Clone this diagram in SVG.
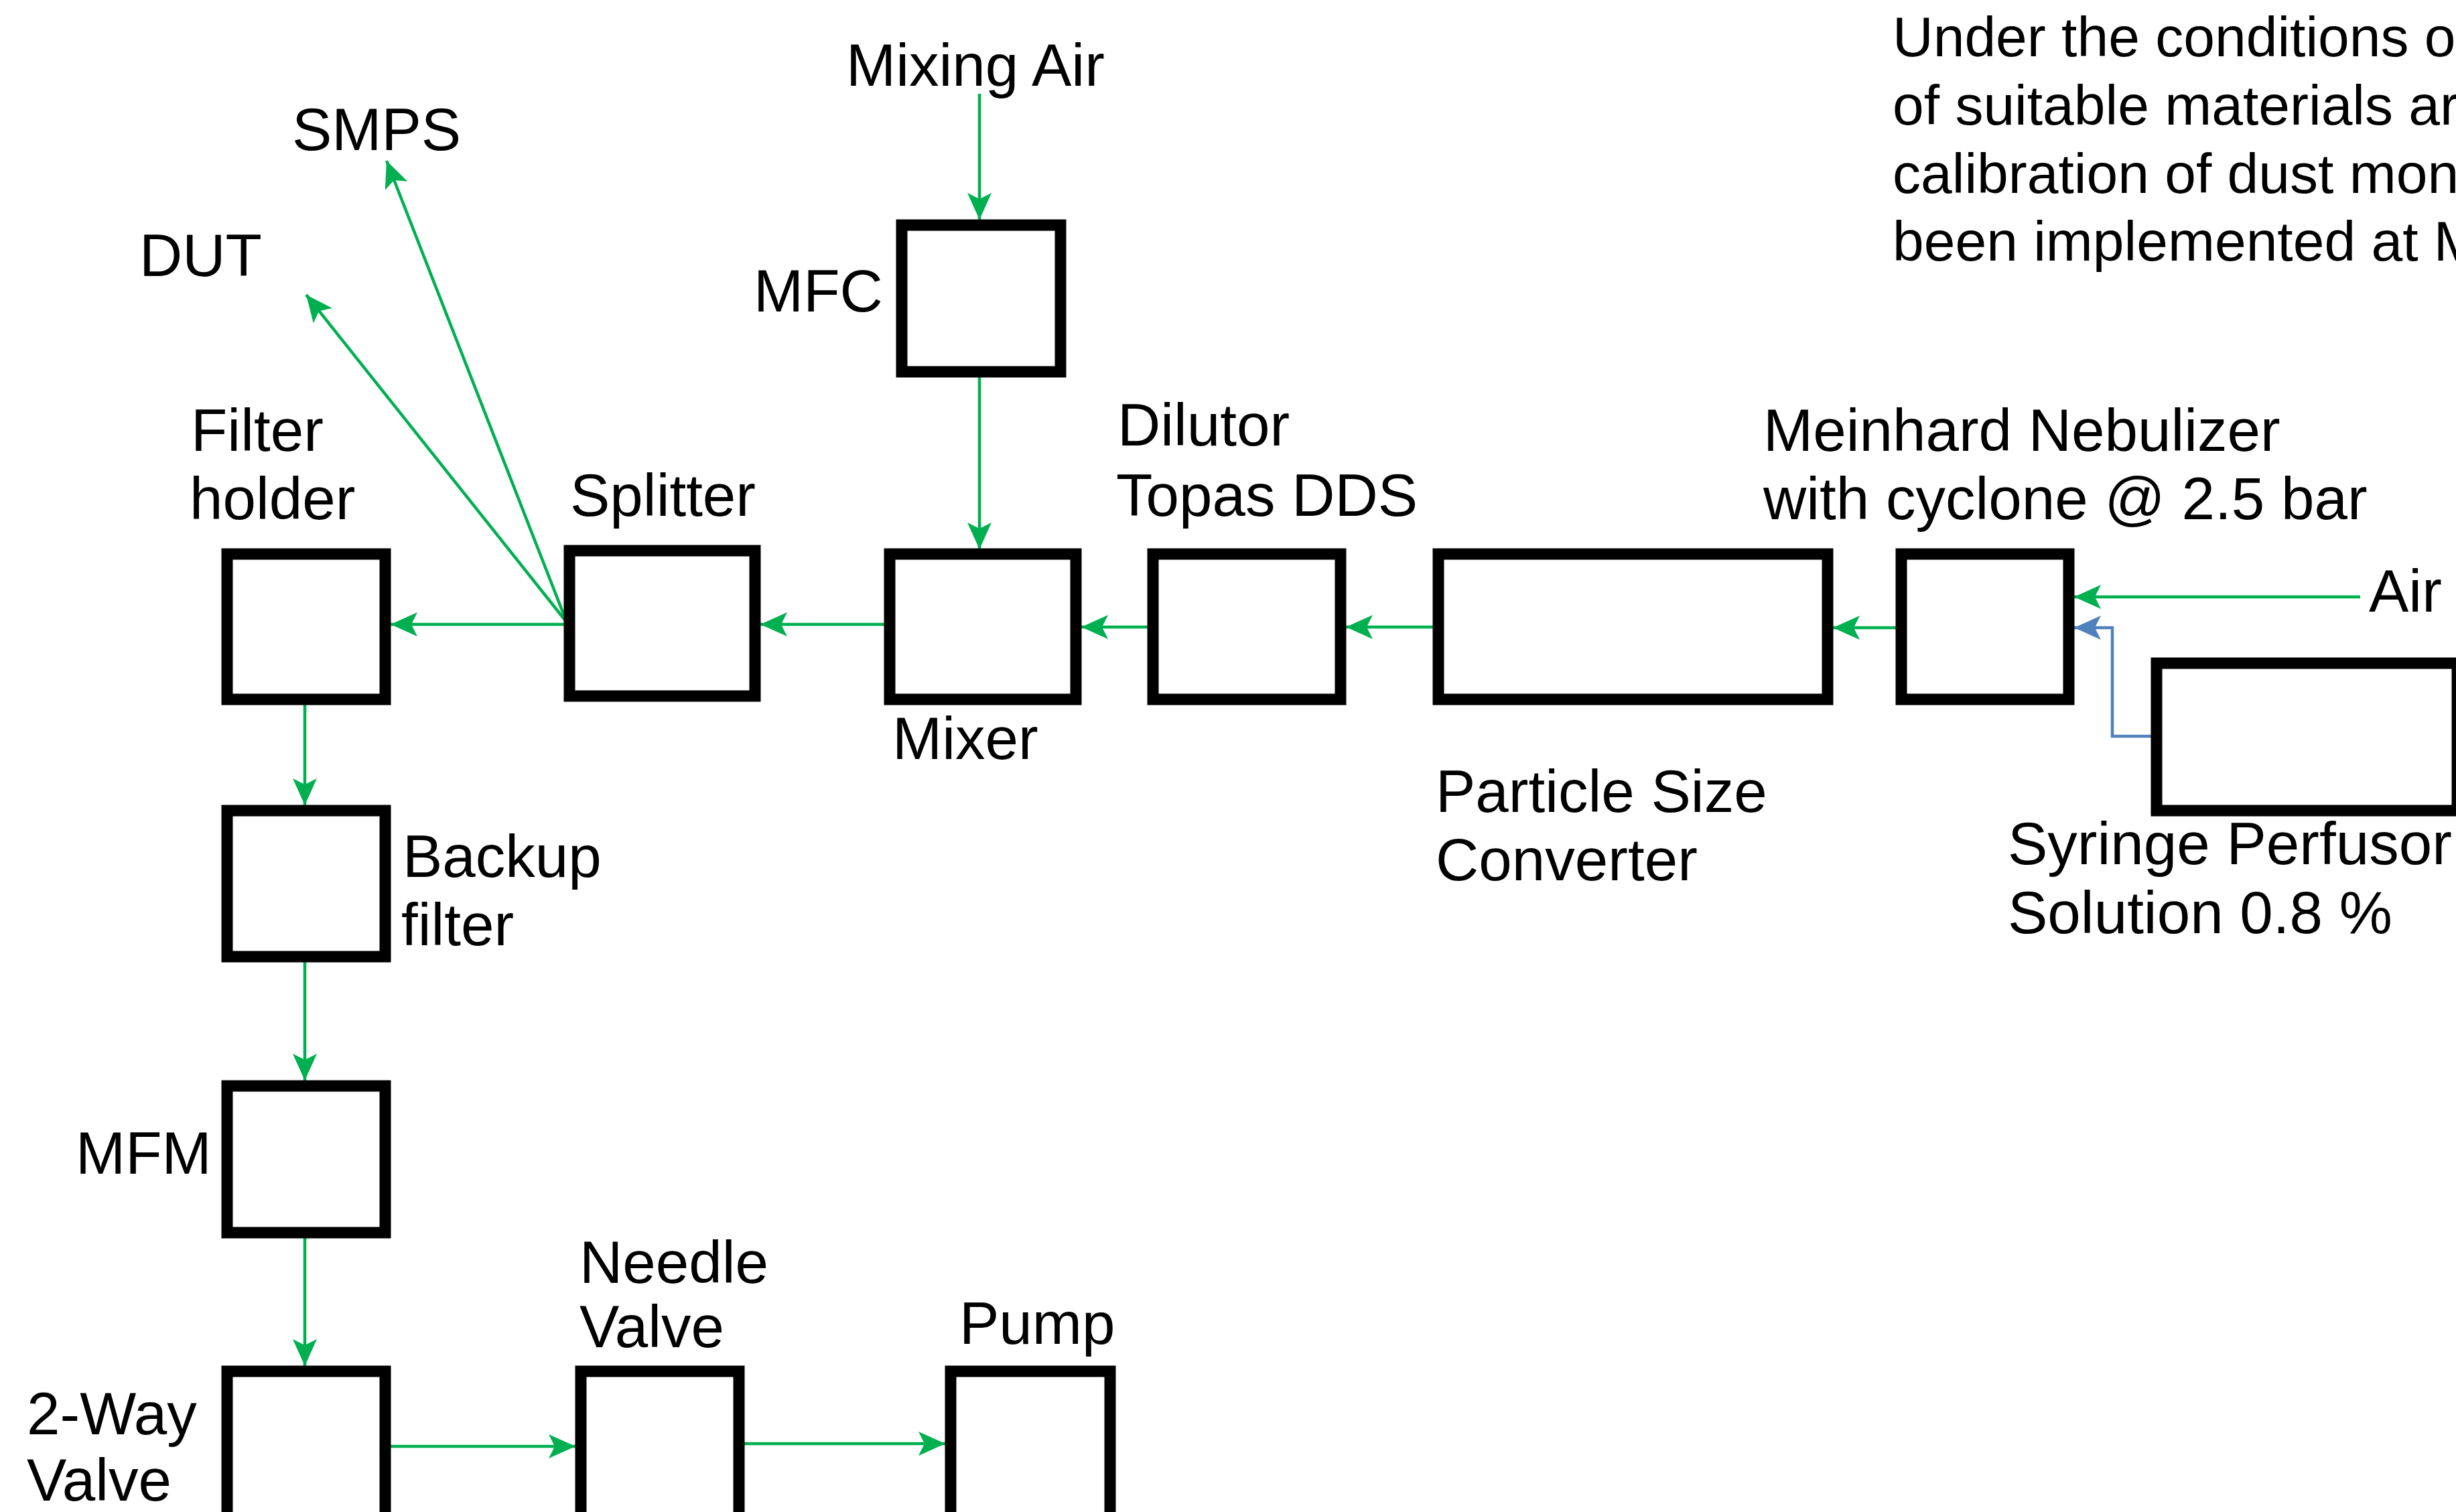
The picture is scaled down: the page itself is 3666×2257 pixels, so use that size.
<svg xmlns="http://www.w3.org/2000/svg" width="3666" height="2257" viewBox="0 0 3666 2257">
<style>
.box{fill:#fff;stroke:#000;stroke-width:17}
.lbl{font-family:'Liberation Sans',Arial,sans-serif;font-size:89px;fill:#000}
.para{font-family:'Liberation Sans',Arial,sans-serif;font-size:84px;fill:#000}
.g{fill:none;stroke:#00B050;stroke-width:4.5}
.b{fill:none;stroke:#4F81BD;stroke-width:4.5}
</style>
<defs>
<marker id="ag" markerUnits="userSpaceOnUse" markerWidth="42" markerHeight="38" refX="40" refY="18" orient="auto" viewBox="0 0 42 38">
<path d="M0,0 L40,18 L0,36 L9,18 Z" fill="#00B050"/>
</marker>
<marker id="ab" markerUnits="userSpaceOnUse" markerWidth="42" markerHeight="38" refX="40" refY="18" orient="auto" viewBox="0 0 42 38">
<path d="M0,0 L40,18 L0,36 L9,18 Z" fill="#4F81BD"/>
</marker>
</defs>
<rect width="3666" height="2257" fill="#fff"/>

<g id="paragraph">
<text class="para" x="2825" y="84">Under the conditions o</text>
<text class="para" x="2825" y="186">of suitable materials ar</text>
<text class="para" x="2825" y="288">calibration of dust mon</text>
<text class="para" x="2825" y="389">been implemented at M</text>
</g>

<g id="connectors">
<path class="g" d="M1462,140 V328" marker-end="url(#ag)"/>
<path class="g" d="M1462,563 V820" marker-end="url(#ag)"/>
<path class="g" d="M1320,932 H1135" marker-end="url(#ag)"/>
<path class="g" d="M1713,936 H1614" marker-end="url(#ag)"/>
<path class="g" d="M2139,936 H2009" marker-end="url(#ag)"/>
<path class="g" d="M2830,937 H2736" marker-end="url(#ag)"/>
<path class="g" d="M3523,891 H3096" marker-end="url(#ag)"/>
<path class="b" d="M3211,1099 H3153 V937 H3096" marker-end="url(#ab)"/>
<path class="g" d="M842,932 H583" marker-end="url(#ag)"/>
<path class="g" d="M846,929 L457,440" marker-end="url(#ag)"/>
<path class="g" d="M846,929 L577,240" marker-end="url(#ag)"/>
<path class="g" d="M455,1052 V1202" marker-end="url(#ag)"/>
<path class="g" d="M455,1436 V1613" marker-end="url(#ag)"/>
<path class="g" d="M455,1848 V2039" marker-end="url(#ag)"/>
<path class="g" d="M583,2159 H859" marker-end="url(#ag)"/>
<path class="g" d="M1111,2155 H1411" marker-end="url(#ag)"/>
</g>

<g id="mixing-air"><text class="lbl" x="1263" y="128">Mixing Air</text></g>
<g id="smps"><text class="lbl" x="436" y="224">SMPS</text></g>
<g id="dut"><text class="lbl" x="208" y="412">DUT</text></g>
<g id="air"><text class="lbl" x="3536" y="913">Air</text></g>

<g id="mfc">
<rect class="box" x="1346" y="336" width="237" height="219"/>
<text class="lbl" x="1125" y="465">MFC</text>
</g>
<g id="filter-holder">
<rect class="box" x="339" y="827" width="236" height="217"/>
<text class="lbl" x="285" y="673">Filter</text>
<text class="lbl" x="283" y="775">holder</text>
</g>
<g id="splitter">
<rect class="box" x="850" y="822" width="277" height="217"/>
<text class="lbl" x="851" y="770">Splitter</text>
</g>
<g id="mixer">
<rect class="box" x="1328" y="827" width="278" height="217"/>
<text class="lbl" x="1332" y="1133">Mixer</text>
</g>
<g id="dilutor">
<rect class="box" x="1721" y="827" width="280" height="217"/>
<text class="lbl" x="1668" y="665">Dilutor</text>
<text class="lbl" x="1666" y="770">Topas DDS</text>
</g>
<g id="particle-size-converter">
<rect class="box" x="2147" y="827" width="581" height="217"/>
<text class="lbl" x="2143" y="1212">Particle Size</text>
<text class="lbl" x="2143" y="1314">Converter</text>
</g>
<g id="nebulizer">
<rect class="box" x="2838" y="827" width="250" height="217"/>
<text class="lbl" x="2632" y="673">Meinhard Nebulizer</text>
<text class="lbl" x="2632" y="775">with cyclone @ 2.5 bar</text>
</g>
<g id="syringe-perfusor">
<rect class="box" x="3219" y="990" width="449" height="220"/>
<text class="lbl" x="2997" y="1290">Syringe Perfusor</text>
<text class="lbl" x="2997" y="1393">Solution 0.8 %</text>
</g>
<g id="backup-filter">
<rect class="box" x="339" y="1210" width="236" height="218"/>
<text class="lbl" x="601" y="1309">Backup</text>
<text class="lbl" x="599" y="1411">filter</text>
</g>
<g id="mfm">
<rect class="box" x="339" y="1621" width="236" height="219"/>
<text class="lbl" x="113" y="1752">MFM</text>
</g>
<g id="two-way-valve">
<rect class="box" x="339" y="2047" width="236" height="300"/>
<text class="lbl" x="40" y="2141">2-Way</text>
<text class="lbl" x="40" y="2240">Valve</text>
</g>
<g id="needle-valve">
<rect class="box" x="867" y="2047" width="236" height="300"/>
<text class="lbl" x="865" y="1915">Needle</text>
<text class="lbl" x="865" y="2011">Valve</text>
</g>
<g id="pump">
<rect class="box" x="1419" y="2047" width="238" height="300"/>
<text class="lbl" x="1432" y="2006">Pump</text>
</g>
</svg>
